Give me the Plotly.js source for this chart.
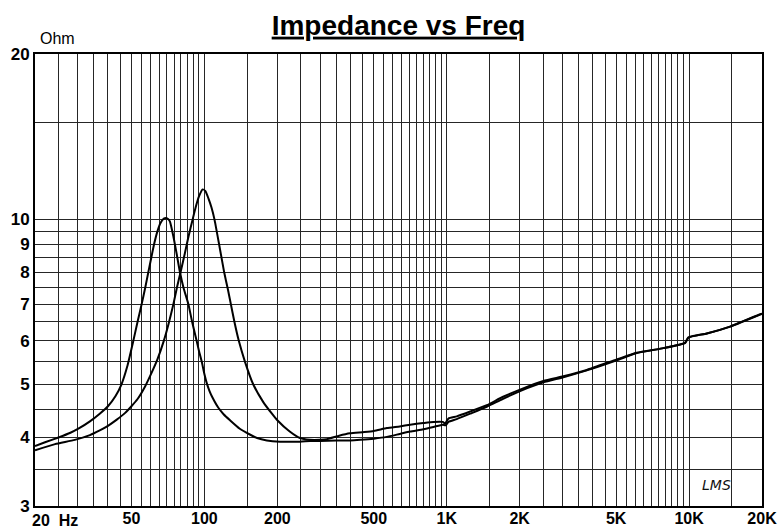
<!DOCTYPE html>
<html>
<head>
<meta charset="utf-8">
<script src="https://cdn.plot.ly/plotly-3.0.1.min.js"></script>
<style>html,body{margin:0;padding:0;background:#fff;}#chart{width:779px;height:529px;}</style>
</head>
<body>
<div id="chart"></div>
<script>
// Curve A (lower resonance ~69 Hz)
var freqA = [20, 22, 25, 28, 30.2, 33.7, 37, 40, 43, 45.5, 48, 50.9, 53, 55.1, 57, 58.7, 62, 64, 66, 68, 69.5, 71, 72.1, 74.5, 77, 79.3, 82, 85.9, 89, 92.9, 95, 97.5, 100, 102.2, 105, 108, 114.2, 120, 127.6, 140, 154, 165, 181, 205, 248, 273, 300, 350, 400, 440, 500, 566, 640, 706, 800, 881, 963, 990, 1016, 1100, 1250, 1463, 1700, 2008, 2506, 3030, 3784, 5032, 6085, 7836, 9632, 9938, 11838, 14770, 19640, 20000];
var zA = [3.86, 3.92, 4.00, 4.08, 4.15, 4.28, 4.42, 4.56, 4.76, 5.0, 5.38, 6.0, 6.5, 7.0, 7.5, 8.0, 9.0, 9.5, 9.85, 10.02, 10.05, 10.0, 9.9, 9.3, 8.6, 8.0, 7.5, 7.0, 6.5, 6.0, 5.75, 5.5, 5.22, 5.03, 4.86, 4.73, 4.53, 4.41, 4.30, 4.15, 4.05, 3.99, 3.95, 3.93, 3.93, 3.94, 3.94, 3.95, 3.95, 3.96, 3.98, 4.01, 4.06, 4.10, 4.14, 4.18, 4.22, 4.21, 4.27, 4.32, 4.42, 4.55, 4.70, 4.86, 5.04, 5.15, 5.30, 5.53, 5.70, 5.82, 5.95, 6.08, 6.19, 6.37, 6.70, 6.72];

// Curve B (higher resonance ~98 Hz)
var freqB = [20, 24.2, 29.2, 33.7, 37, 40, 43.5, 47, 50, 53, 57, 60, 64, 68, 71, 74.5, 77, 80, 83, 86, 89.5, 92, 95, 98.4, 101, 104, 107, 110, 115, 120.7, 125, 128.6, 133, 138.7, 147, 159, 175, 190, 200, 225, 248, 273, 300, 320, 360, 399, 450, 500, 566, 640, 706, 800, 881, 963, 984, 1016, 1100, 1250, 1463, 1700, 2008, 2506, 3030, 3784, 5032, 6085, 7836, 9632, 9938, 11838, 14770, 19640, 20000];
var zB = [3.79, 3.89, 3.96, 4.04, 4.12, 4.20, 4.31, 4.43, 4.56, 4.70, 4.96, 5.2, 5.55, 6.0, 6.42, 7.0, 7.5, 8.05, 8.65, 9.3, 10.0, 10.5, 11.0, 11.33, 11.25, 10.9, 10.5, 10.0, 9.0, 8.0, 7.45, 7.0, 6.5, 6.0, 5.5, 5.0, 4.64, 4.42, 4.3, 4.1, 3.99, 3.96, 3.96, 3.97, 4.03, 4.07, 4.09, 4.11, 4.16, 4.19, 4.22, 4.25, 4.27, 4.27, 4.24, 4.33, 4.37, 4.46, 4.58, 4.74, 4.89, 5.07, 5.17, 5.31, 5.55, 5.71, 5.82, 5.95, 6.09, 6.19, 6.37, 6.71, 6.72];

// Tick labels (the first one, "20 Hz", is drawn as an annotation next to the axis)
var xTickVals = [20, 50, 100, 200, 500, 1000, 2000, 5000, 10000, 20000];
var xTickText = ["", "50", "100", "200", "500", "1K", "2K", "5K", "10K", "20K"];
var xFirstLabel = "20\u00a0\u00a0Hz";
var yTickVals = [3, 4, 5, 6, 7, 8, 9, 10, 20];
var yTickText = ["3", "4", "5", "6", "7", "8", "9", "10", "20"];

// Grid positions (minor)
var xGrid = [];
for (var v = 25; v < 100; v += 5) xGrid.push(v);
[100, 1000].forEach(function (d) {
  for (var m = 1.5; m < 10; m += 0.5) xGrid.push(m * d);
});
xGrid.push(15000);
var yGrid = [3.5, 4.5, 5.5, 6.5, 7.5, 8.5, 9.5, 15];

var fam = "'Liberation Sans', Arial, sans-serif";
var gridCol = '#262626';

var traces = [
  {x: freqA, y: zA, type: 'scatter', mode: 'lines', line: {color: '#000', width: 2, shape: 'spline', smoothing: 0.5}, hoverinfo: 'skip'},
  {x: freqB, y: zB, type: 'scatter', mode: 'lines', line: {color: '#000', width: 2, shape: 'spline', smoothing: 0.5}, hoverinfo: 'skip'}
];

var layout = {
  width: 779, height: 529,
  margin: {l: 35, r: 17, t: 54, b: 23, pad: 0},
  paper_bgcolor: '#fff', plot_bgcolor: '#fff',
  showlegend: false,
  title: {
    text: '<u>Impedance vs Freq</u>',
    font: {family: fam, size: 28, weight: 'bold', color: '#000'},
    x: 0.5, xref: 'paper', xanchor: 'center',
    y: 0.953, yref: 'container', yanchor: 'middle'
  },
  xaxis: {
    type: 'log', range: [Math.log10(20), Math.log10(20000)],
    tickmode: 'array', tickvals: xTickVals, ticktext: xTickText,
    ticks: '', showgrid: true, gridcolor: gridCol, gridwidth: 1,
    minor: {tickmode: 'array', tickvals: xGrid, showgrid: true, gridcolor: gridCol, gridwidth: 1, ticks: ''},
    showline: true, linecolor: '#000', linewidth: 2, mirror: true,
    tickfont: {family: fam, size: 16, weight: 'bold', color: '#000'},
    ticklabelstandoff: -3,
    zeroline: false, fixedrange: true
  },
  yaxis: {
    type: 'log', range: [Math.log10(3), Math.log10(20)],
    tickmode: 'array', tickvals: yTickVals, ticktext: yTickText,
    ticks: '', showgrid: true, gridcolor: gridCol, gridwidth: 1,
    minor: {tickmode: 'array', tickvals: yGrid, showgrid: true, gridcolor: gridCol, gridwidth: 1, ticks: ''},
    showline: true, linecolor: '#000', linewidth: 2, mirror: true,
    tickfont: {family: fam, size: 17, weight: 'bold', color: '#000'},
    zeroline: false, fixedrange: true
  },
  annotations: [
    {text: 'Ohm', xref: 'paper', yref: 'paper', x: 0.031, y: 1.034, xanchor: 'center', yanchor: 'middle', showarrow: false,
     font: {family: fam, size: 16, color: '#000'}},
    {text: xFirstLabel, xref: 'paper', yref: 'paper', x: -0.007, y: -0.031, xanchor: 'left', yanchor: 'middle', showarrow: false,
     font: {family: fam, size: 16, weight: 'bold', color: '#000'}},
    {text: 'LMS', xref: 'paper', yref: 'paper', x: 0.938, y: 0.046, xanchor: 'center', yanchor: 'middle', showarrow: false,
     font: {family: "'DejaVu Sans', sans-serif", size: 14, style: 'italic', color: '#111'}}
  ]
};

Plotly.newPlot('chart', traces, layout, {staticPlot: true, displayModeBar: false});
</script>
</body>
</html>
